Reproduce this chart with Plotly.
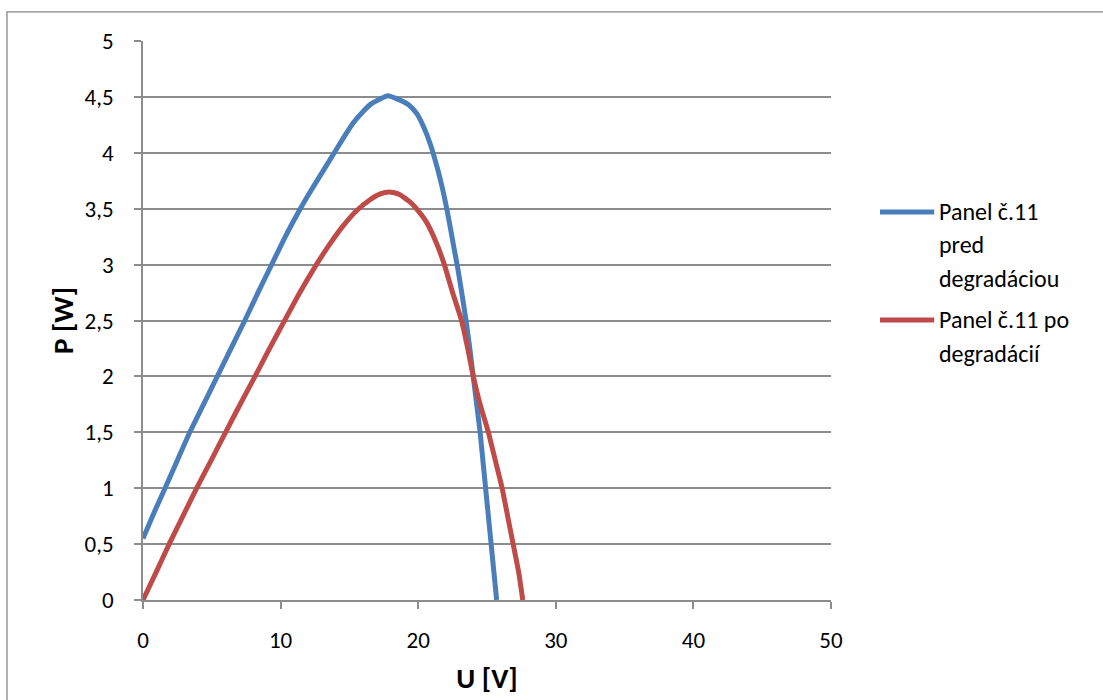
import plotly.graph_objects as go

# Measured P-U characteristics of panel no. 11
u_before = [0.0, 0.8, 1.6, 2.5, 3.4, 4.4, 5.4, 6.4, 7.4, 8.4, 9.35, 10.3, 11.3, 12.0,
            12.9, 13.8, 14.5, 15.3, 16.0, 16.6, 17.2, 17.8, 18.5, 19.3, 19.9, 20.4,
            20.9, 21.4, 21.8, 22.2, 22.6, 22.9, 23.2, 23.5, 23.75, 24.0, 24.25,
            24.5, 24.7, 24.9, 25.1, 25.3, 25.5, 25.7]
p_before = [0.55, 0.78, 1.00, 1.25, 1.50, 1.75, 2.00, 2.25, 2.50, 2.76, 3.00, 3.24,
            3.47, 3.62, 3.80, 3.98, 4.12, 4.27, 4.37, 4.44, 4.48, 4.51, 4.48, 4.43,
            4.35, 4.23, 4.07, 3.86, 3.66, 3.42, 3.15, 2.95, 2.72, 2.48, 2.25, 2.00,
            1.75, 1.50, 1.25, 1.00, 0.75, 0.50, 0.25, 0.00]

u_after = [0.0, 1.0, 1.9, 2.9, 3.9, 5.0, 6.0, 7.1, 8.14, 9.2, 10.25, 11.4, 12.5, 13.5,
           14.5, 15.5, 16.5, 17.2, 17.9, 18.6, 19.4, 20.0, 20.6, 21.3, 21.9, 22.5,
           23.15, 23.6, 24.0, 24.5, 25.1, 25.6, 26.1, 26.5, 26.9, 27.3, 27.6]
p_after = [0.00, 0.26, 0.50, 0.75, 1.00, 1.26, 1.50, 1.76, 2.00, 2.25, 2.49, 2.75,
           2.98, 3.17, 3.34, 3.48, 3.58, 3.63, 3.65, 3.63, 3.56, 3.48, 3.38, 3.20,
           3.00, 2.75, 2.50, 2.25, 2.00, 1.75, 1.50, 1.25, 1.00, 0.75, 0.50, 0.25,
           0.00]

series_names = [["Panel č.11", "pred", "degradáciou"], ["Panel č.11 po", "degradácií"]]
series_colors = ["#4A7EBB", "#BE4B48"]

x_ticks = [0, 10, 20, 30, 40, 50]
y_ticks = [0, 0.5, 1, 1.5, 2, 2.5, 3, 3.5, 4, 4.5, 5]

FONT = "Calibri, Carlito, Lato, sans-serif"
GRID = "#8C8C8C"

fig = go.Figure()
for (u, p), color, name in zip([(u_before, p_before), (u_after, p_after)],
                               series_colors, series_names):
    fig.add_trace(go.Scatter(x=u, y=p, mode="lines", name=" ".join(name),
                             line=dict(color=color, width=5, shape="spline", smoothing=0.5),
                             showlegend=False))

# Hand-built legend: swatch line + one annotation per text line
shapes = [
    # chart frame
    dict(type="rect", xref="paper", yref="paper", x0=-0.1977, x1=1.41, y0=-0.21, y1=1.052,
         line=dict(color="#868686", width=1.3), fillcolor="rgba(0,0,0,0)", layer="below"),
]
annotations = []
legend_rows = [[0.6941, 0.6351, 0.5760], [0.5009, 0.4401]]
for color, rows, lines in zip(series_colors, legend_rows, series_names):
    shapes.append(dict(type="line", xref="paper", yref="paper", x0=1.0712, x1=1.150,
                       y0=rows[0], y1=rows[0], line=dict(color=color, width=5)))
    for yy, txt in zip(rows, lines):
        annotations.append(dict(xref="paper", yref="paper", x=1.1545, y=yy, text=txt,
                                showarrow=False, xanchor="left", yanchor="middle",
                                font=dict(family=FONT, size=24, color="#000000")))

fig.update_layout(
    width=1103, height=700,
    margin=dict(l=143, r=272, t=41, b=100),
    paper_bgcolor="white", plot_bgcolor="white",
    separators=", ",
    font=dict(family=FONT, size=23, color="#000000"),
    shapes=shapes, annotations=annotations,
)
fig.update_xaxes(range=[0, 50], tickvals=x_ticks, showgrid=False, zeroline=False,
                 showline=True, linecolor=GRID, linewidth=1.5,
                 ticks="outside", ticklen=7, tickcolor=GRID, tickwidth=1.5,
                 ticklabelstandoff=12,
                 tickfont=dict(family=FONT, size=23),
                 title=dict(text="<b>U [V]</b>", font=dict(family=FONT, size=29), standoff=14))
fig.update_yaxes(range=[0, 5], tickvals=y_ticks, showgrid=True, gridcolor=GRID, gridwidth=1.5,
                 zeroline=False, showline=True, linecolor=GRID, linewidth=1.5,
                 ticks="outside", ticklen=7, tickcolor=GRID, tickwidth=1.5,
                 ticklabelstandoff=16,
                 tickfont=dict(family=FONT, size=23),
                 title=dict(text="<b>P [W]</b>", font=dict(family=FONT, size=29), standoff=2))

fig.write_html("out.html")
